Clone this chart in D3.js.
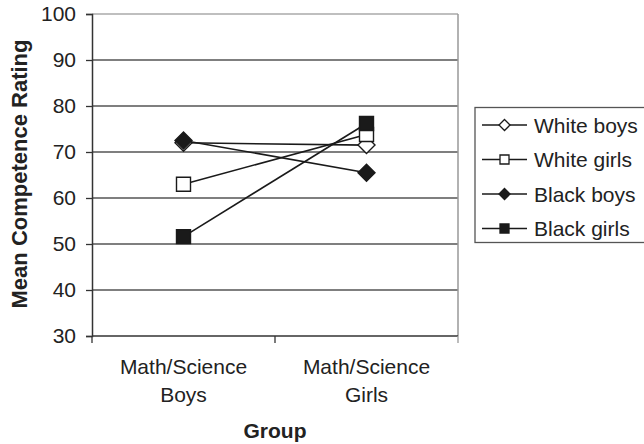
<!DOCTYPE html>
<html>
<head>
<meta charset="utf-8">
<script src="https://cdn.jsdelivr.net/npm/d3@7"></script>
<style>
  html, body { margin: 0; padding: 0; background: #fff; }
  svg { display: block; font-family: "Liberation Sans", Arial, Helvetica, sans-serif; }
</style>
</head>
<body>
<svg id="chart" width="644" height="444"></svg>
<script>
// Mean competence ratings by student group and target group
const groups = ["Math/Science Boys", "Math/Science Girls"];
const groupLines = [["Math/Science", "Boys"], ["Math/Science", "Girls"]];
const seriesNames = ["White boys", "White girls", "Black boys", "Black girls"];
const whiteBoys = [72.0, 71.5];
const whiteGirls = [63.0, 73.8];
const blackBoys = [72.5, 65.5];
const blackGirls = [51.6, 76.2];
const yTicks = [30, 40, 50, 60, 70, 80, 90, 100];

const series = [
  { name: seriesNames[0], values: whiteBoys, shape: "diamond", fill: "#fff" },
  { name: seriesNames[1], values: whiteGirls, shape: "square", fill: "#fff" },
  { name: seriesNames[2], values: blackBoys, shape: "diamond", fill: "#1a1a1a" },
  { name: seriesNames[3], values: blackGirls, shape: "square", fill: "#1a1a1a" }
];

const svg = d3.select("#chart");
const plot = { left: 92, right: 458, top: 14, bottom: 336 };

const x = d3.scaleBand().domain(groups).range([plot.left, plot.right]);
const y = d3.scaleLinear().domain([30, 100]).range([plot.bottom, plot.top]);

// Horizontal gridlines
svg.append("g").selectAll("line")
  .data(yTicks.filter(t => t > 30))
  .join("line")
  .attr("x1", plot.left).attr("x2", plot.right)
  .attr("y1", d => y(d)).attr("y2", d => y(d))
  .attr("stroke", d => d === 100 ? "#aaa" : "#555")
  .attr("stroke-width", 1.3);

// Right border of plot area
svg.append("line")
  .attr("x1", plot.right).attr("x2", plot.right)
  .attr("y1", plot.top).attr("y2", plot.bottom)
  .attr("stroke", "#999").attr("stroke-width", 1.5);

// Y axis
const yAxis = svg.append("g")
  .attr("transform", `translate(${plot.left},0)`)
  .call(d3.axisLeft(y).tickValues(yTicks).tickSize(6).tickPadding(10));
yAxis.select(".domain").attr("stroke", "#333").attr("stroke-width", 1.5);
yAxis.selectAll(".tick line").attr("stroke", "#333").attr("stroke-width", 1.3);
yAxis.selectAll(".tick text")
  .attr("font-size", 21).attr("fill", "#222")
  .attr("font-family", "Liberation Sans, Arial, sans-serif");

// X axis: ticks placed between categories
const xAxisG = svg.append("g");
xAxisG.append("line")
  .attr("x1", plot.left).attr("x2", plot.right)
  .attr("y1", plot.bottom).attr("y2", plot.bottom)
  .attr("stroke", "#333").attr("stroke-width", 1.5);
const boundaries = [plot.left].concat(groups.map(g => x(g) + x.bandwidth()));
xAxisG.selectAll("line.tick")
  .data(boundaries)
  .join("line")
  .attr("class", "tick")
  .attr("x1", d => d).attr("x2", d => d)
  .attr("y1", plot.bottom).attr("y2", plot.bottom + 7)
  .attr("stroke", (d, i) => i === boundaries.length - 1 ? "#999" : "#333")
  .attr("stroke-width", 1.3);

const xLabels = xAxisG.selectAll("text.cat")
  .data(groups)
  .join("text")
  .attr("class", "cat")
  .attr("text-anchor", "middle")
  .attr("font-size", 21).attr("fill", "#222");
xLabels.each(function(d, i) {
  const t = d3.select(this);
  groupLines[i].forEach((ln, j) => {
    t.append("tspan")
      .attr("x", x(d) + x.bandwidth() / 2)
      .attr("y", 374 + j * 28)
      .text(ln);
  });
});

// Axis titles
svg.append("text")
  .attr("x", (plot.left + plot.right) / 2)
  .attr("y", 438)
  .attr("text-anchor", "middle")
  .attr("font-size", 21).attr("font-weight", "bold").attr("fill", "#222")
  .text("Group");

svg.append("text")
  .attr("transform", `translate(27,174) rotate(-90)`)
  .attr("text-anchor", "middle")
  .attr("font-size", 22).attr("font-weight", "bold").attr("fill", "#222")
  .text("Mean Competence Rating");

// Marker shapes
function markerPath(shape, size) {
  const h = size / 2;
  if (shape === "diamond") {
    return `M0,${-h}L${h},0L0,${h}L${-h},0Z`;
  }
  return `M${-h},${-h}H${h}V${h}H${-h}Z`;
}

const cx = g => x(g) + x.bandwidth() / 2;
const line = d3.line().x((d, i) => cx(groups[i])).y(d => y(d));

// Lines first, then markers
const sg = svg.append("g");
series.forEach(s => {
  sg.append("path")
    .attr("d", line(s.values))
    .attr("fill", "none")
    .attr("stroke", "#1a1a1a")
    .attr("stroke-width", 1.6);
});
series.forEach(s => {
  sg.selectAll(null)
    .data(s.values)
    .join("path")
    .attr("transform", (d, i) => `translate(${cx(groups[i])},${y(d)})`)
    .attr("d", markerPath(s.shape, s.shape === "diamond" ? 17 : 14))
    .attr("fill", s.fill)
    .attr("stroke", "#1a1a1a")
    .attr("stroke-width", 1.4);
});

// Legend
const legend = svg.append("g");
legend.append("rect")
  .attr("x", 475).attr("y", 107.5)
  .attr("width", 190).attr("height", 135)
  .attr("fill", "#fff").attr("stroke", "#555").attr("stroke-width", 1.3);
series.forEach((s, i) => {
  const ly = 125 + i * 34.5;
  legend.append("line")
    .attr("x1", 482).attr("x2", 527)
    .attr("y1", ly).attr("y2", ly)
    .attr("stroke", "#1a1a1a").attr("stroke-width", 1.6);
  legend.append("path")
    .attr("transform", `translate(504.5,${ly})`)
    .attr("d", markerPath(s.shape, s.shape === "diamond" ? 11 : 9))
    .attr("fill", s.fill)
    .attr("stroke", "#1a1a1a")
    .attr("stroke-width", 1.3);
  legend.append("text")
    .attr("x", 534).attr("y", ly + 7.5)
    .attr("font-size", 21).attr("fill", "#222")
    .text(s.name);
});
</script>
</body>
</html>
